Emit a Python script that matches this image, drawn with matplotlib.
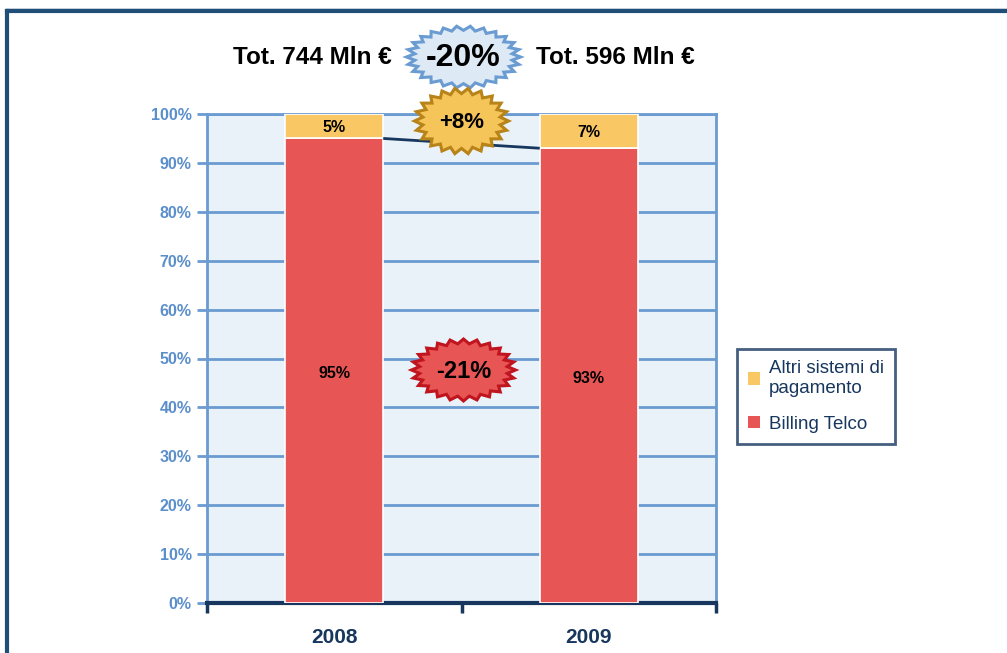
import numpy as np
import matplotlib
matplotlib.use("Agg")
import matplotlib.pyplot as plt
from matplotlib.patches import Polygon, Patch

plt.rcParams['font.family'] = ['Liberation Sans', 'DejaVu Sans']

# ---- data ----
years = ['2008', '2009']
billing_telco = [95, 93]
altri_sistemi = [5, 7]
totals = [744, 596]
total_change = '-20%'
altri_change = '+8%'
billing_change = '-21%'
series_labels = ['Altri sistemi di\npagamento', 'Billing Telco']
y_ticks = list(range(0, 101, 10))

# ---- colours ----
RED = '#E85555'
YELLOW = '#F9C865'
PANEL = '#EAF2F9'
GRID = '#6A9BD1'
NAVY = '#17375E'
TICKBLUE = '#5B8FCB'

W, H = 1007, 653
fig = plt.figure(figsize=(W / 100, H / 100), dpi=100)
ax = fig.add_axes([207 / W, 1 - 603 / H, (716 - 207) / W, (603 - 114) / H])
ax.set_facecolor(PANEL)

x = np.arange(len(years))
bw = 0.385
ax.bar(x, billing_telco, bw, color=RED, edgecolor='white', linewidth=1.2, zorder=3)
ax.bar(x, altri_sistemi, bw, bottom=billing_telco, color=YELLOW,
       edgecolor='white', linewidth=1.2, zorder=3)

for xi, bt, al in zip(x, billing_telco, altri_sistemi):
    ax.text(xi, bt / 2 - 0.6, f'{bt}%', ha='center', va='center', fontsize=11.5,
            fontweight='bold', color='black', zorder=5)
    ax.text(xi, bt + al / 2 - 0.3, f'{al}%', ha='center', va='center', fontsize=11.5,
            fontweight='bold', color='black', zorder=5)

# connector between the tops of the red segments
ax.plot([x[0] + bw / 2, x[1] - bw / 2], [billing_telco[0], billing_telco[1]],
        color=NAVY, lw=2, zorder=4, solid_capstyle='butt')

ax.set_xlim(-0.5, 1.5)
ax.set_ylim(0, 100)
ax.set_yticks(y_ticks)
ax.set_yticklabels([f'{t}%' for t in y_ticks])
ax.yaxis.grid(True, color=GRID, lw=2, zorder=1)
ax.set_axisbelow(True)

ax.set_xticks(x)
ax.set_xticklabels(years)
ax.set_xticks([-0.5, 0.5, 1.5], minor=True)
ax.tick_params(axis='x', which='major', length=0, pad=18, labelsize=15,
               labelcolor=NAVY)
ax.tick_params(axis='x', which='minor', length=7, width=2.5, color=NAVY,
               direction='out')
for lbl in ax.get_xticklabels():
    lbl.set_fontweight('bold')
ax.tick_params(axis='y', length=7, width=2, color=GRID, labelsize=11.5,
               labelcolor=TICKBLUE, pad=4)
for lbl in ax.get_yticklabels():
    lbl.set_fontweight('bold')

for s in ['left', 'right', 'top']:
    ax.spines[s].set_color(GRID)
    ax.spines[s].set_linewidth(2)
ax.spines['bottom'].set_color(NAVY)
ax.spines['bottom'].set_linewidth(3)

# legend
handles = [Patch(facecolor=YELLOW, edgecolor='none'),
           Patch(facecolor=RED, edgecolor='none')]
leg = fig.legend(handles, series_labels, loc='upper left',
                 bbox_to_anchor=(737 / W, 1 - 349 / H), frameon=True,
                 fancybox=False, edgecolor=NAVY, fontsize=13.5,
                 labelcolor=NAVY, handlelength=0.65, handleheight=0.65,
                 handletextpad=0.45, labelspacing=1.0, borderpad=0.6,
                 borderaxespad=0)
leg.get_frame().set_linewidth(2)

# ---- overlay in pixel space for frame, totals and starbursts ----
ov = fig.add_axes([0, 0, 1, 1], zorder=10)
ov.set_xlim(0, W)
ov.set_ylim(H, 0)
ov.axis('off')
ov.patch.set_alpha(0)

ov.plot([7, W + 5], [9, 9], color='#C9D3DE', lw=1.2)
ov.plot([7, W + 5], [11, 11], color='#1F4E79', lw=3)
ov.plot([7, 7], [11, H + 5], color='#1F4E79', lw=3)


def burst(cx, cy, rx, ry, n, depth):
    ang = np.linspace(0, 2 * np.pi, 2 * n, endpoint=False)
    r = np.where(np.arange(2 * n) % 2 == 0, 1.0, 1.0 - depth)
    return np.column_stack([cx + rx * r * np.cos(ang), cy + ry * r * np.sin(ang)])


def bx(i):
    return ax.transData.transform((i, 0))[0]


mid_x = (bx(x[0]) + bx(x[1])) / 2

ov.add_patch(Polygon(burst(mid_x + 2, 57, 57, 31, 26, 0.14), closed=True,
                     facecolor='#DDEAF6', edgecolor='#6A9BD1', lw=2.2))
ov.text(mid_x + 2, 58, total_change, ha='center', va='center', fontsize=23,
        fontweight='bold', color='black')

ov.add_patch(Polygon(burst(mid_x, 121, 47, 33, 22, 0.17), closed=True,
                     facecolor='#F5C55A', edgecolor='#B88318', lw=2.2))
ov.text(mid_x, 122, altri_change, ha='center', va='center', fontsize=16,
        fontweight='bold', color='black')

ov.add_patch(Polygon(burst(mid_x + 2, 370, 52, 31, 24, 0.15), closed=True,
                     facecolor='#E85555', edgecolor='#C0141E', lw=2.2))
ov.text(mid_x + 2, 371, billing_change, ha='center', va='center', fontsize=17,
        fontweight='bold', color='black')

ov.text(bx(x[0]) - 22, 58, f'Tot. {totals[0]} Mln €', ha='center', va='center',
        fontsize=17.5, fontweight='bold', color='black')
ov.text(bx(x[1]) + 27, 58, f'Tot. {totals[1]} Mln €', ha='center', va='center',
        fontsize=17.5, fontweight='bold', color='black')

fig.savefig('out.png', dpi=100)
